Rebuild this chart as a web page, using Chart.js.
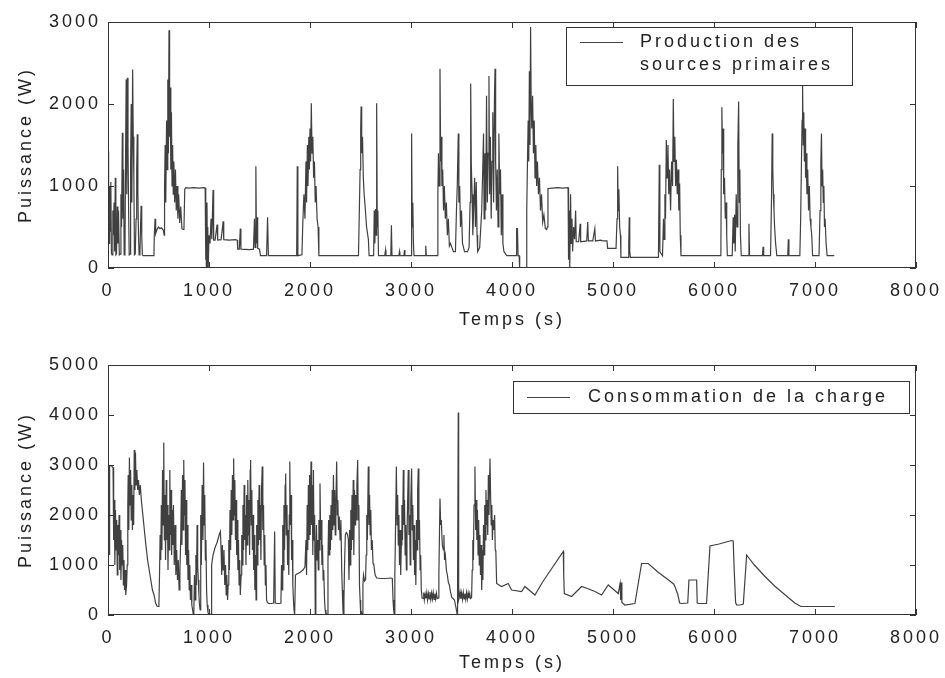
<!DOCTYPE html>
<html>
<head>
<meta charset="utf-8">
<title>Puissance - production et consommation</title>
<script src="https://cdn.jsdelivr.net/npm/chart.js@4.4.1/dist/chart.umd.min.js"></script>
<style>
    html, body { margin: 0; padding: 0; background: #ffffff; }
    #wrap { position: relative; width: 945px; height: 678px; }
    canvas { position: absolute; left: 0; }
    #prodChart { top: 0; }
    #chargeChart { top: 340px; }
</style>
</head>
<body>
<div id="wrap">
    <canvas id="prodChart" width="945" height="340"></canvas>
    <canvas id="chargeChart" width="945" height="338"></canvas>
</div>
<script>
/* ===============================================
   DATA
   =============================================== */

// Tick labels
const timeTicks = [0, 1000, 2000, 3000, 4000, 5000, 6000, 7000, 8000];
const prodTicks = [0, 1000, 2000, 3000];
const chargeTicks = [0, 1000, 2000, 3000, 4000, 5000];

// Texts
const xTitle = 'Temps (s)';
const yTitle = 'Puissance (W)';
const prodLegend = ['Production des', 'sources primaires'];
const chargeLegend = ['Consommation de la charge'];

// Production des sources primaires: time (s) / power (W)
const prodTime = [
    0, 6, 10, 16, 22, 28, 34, 40, 48, 54, 60, 66, 72, 78, 84, 92, 98, 104, 112, 120,
    128, 134, 142, 148, 154, 160, 168, 174, 180, 186, 192, 198, 204, 210, 218, 224, 230, 236, 244, 250,
    256, 262, 270, 278, 284, 290, 296, 302, 308, 316, 322, 328, 334, 340, 350, 380, 440, 455, 458, 466,
    472, 485, 500, 515, 530, 548, 556, 560, 566, 572, 580, 586, 592, 598, 604, 610, 616, 622, 628, 634,
    640, 646, 652, 660, 668, 676, 684, 692, 700, 710, 720, 732, 745, 752, 760, 770, 800, 850, 900, 950,
    962, 966, 970, 974, 980, 984, 988, 992, 1000, 1010, 1020, 1028, 1040, 1046, 1060, 1080, 1086, 1120, 1140, 1146,
    1200, 1260, 1280, 1284, 1300, 1310, 1316, 1400, 1440, 1450, 1456, 1464, 1470, 1476, 1482, 1500, 1510, 1570, 1580, 1588,
    1700, 1800, 1868, 1874, 1880, 1920, 1930, 1940, 1950, 1960, 1966, 1974, 1980, 1988, 1994, 2000, 2006, 2013, 2020, 2028,
    2036, 2044, 2052, 2060, 2070, 2080, 2088, 2200, 2300, 2400, 2480, 2490, 2496, 2502, 2506, 2512, 2520, 2528, 2536, 2545,
    2560, 2578, 2585, 2630, 2636, 2642, 2650, 2656, 2660, 2666, 2672, 2678, 2740, 2748, 2752, 2800, 2806, 2812, 2880, 2886,
    2890, 2930, 2935, 2940, 3000, 3006, 3012, 3018, 3024, 3030, 3140, 3146, 3152, 3260, 3266, 3272, 3278, 3287, 3294, 3300,
    3306, 3314, 3322, 3330, 3340, 3350, 3360, 3370, 3380, 3390, 3420, 3440, 3450, 3458, 3468, 3474, 3482, 3490, 3500, 3510,
    3530, 3560, 3575, 3585, 3591, 3597, 3605, 3612, 3620, 3630, 3638, 3646, 3654, 3660, 3680, 3700, 3710, 3718, 3724, 3732,
    3740, 3748, 3756, 3764, 3772, 3778, 3786, 3794, 3802, 3810, 3818, 3826, 3832, 3838, 3846, 3854, 3862, 3870, 3878, 3886,
    3894, 3902, 3910, 3920, 3948, 4020, 4040, 4046, 4054, 4060, 4070, 4076, 4120, 4140, 4146, 4152, 4160, 4166, 4172, 4178,
    4184, 4190, 4196, 4204, 4212, 4220, 4228, 4236, 4244, 4252, 4262, 4272, 4282, 4292, 4304, 4316, 4330, 4343, 4350, 4356,
    4400, 4450, 4500, 4555, 4560, 4566, 4572, 4580, 4586, 4594, 4600, 4610, 4620, 4630, 4636, 4660, 4675, 4680, 4740, 4750,
    4756, 4800, 4820, 4826, 4880, 4900, 4940, 4947, 5000, 5030, 5040, 5046, 5052, 5058, 5066, 5074, 5078, 5150, 5156, 5161,
    5166, 5172, 5300, 5400, 5450, 5458, 5464, 5490, 5500, 5506, 5514, 5520, 5528, 5536, 5544, 5552, 5560, 5570, 5580, 5590,
    5597, 5604, 5612, 5620, 5628, 5636, 5644, 5652, 5660, 5666, 5673, 5800, 5900, 6000, 6068, 6072, 6078, 6084, 6090, 6096,
    6104, 6112, 6120, 6126, 6132, 6180, 6190, 6196, 6204, 6210, 6220, 6228, 6236, 6244, 6250, 6256, 6262, 6270, 6330, 6340,
    6346, 6352, 6480, 6486, 6492, 6560, 6570, 6576, 6582, 6588, 6594, 6600, 6610, 6622, 6700, 6730, 6736, 6742, 6850, 6858,
    6866, 6872, 6877, 6883, 6889, 6895, 6901, 6907, 6913, 6920, 6928, 6936, 6944, 6952, 6960, 6968, 6976, 7040, 7050, 7058,
    7064, 7070, 7076, 7082, 7088, 7094, 7100, 7110, 7120, 7160, 7191
];
const prodPower = [
    1420, 1000, 300, 1000, 450, 1050, 180, 160, 700, 400, 800, 200, 1100, 160, 170, 750, 300, 700, 160, 170,
    900, 500, 1650, 600, 1200, 160, 170, 1400, 2300, 900, 2320, 1500, 700, 160, 170, 1300, 2000, 800, 2420, 1600,
    1100, 160, 170, 600, 1200, 1630, 900, 400, 160, 170, 500, 760, 400, 160, 150, 150, 150, 150, 380, 600,
    420, 470, 500, 480, 490, 460, 400, 1000, 1500, 800, 1800, 1200, 2300, 1400, 2900, 1600, 2200, 1200, 1900, 1000,
    1500, 900, 1300, 800, 1200, 700, 1000, 600, 900, 550, 750, 480, 470, 480, 960, 980, 975, 980, 975, 980,
    975, 100, 600, 0, 800, 200, 500, 0, 400, 300, 600, 350, 950, 340, 340, 530, 340, 345, 570, 345,
    340, 345, 340, 230, 230, 480, 230, 225, 230, 600, 250, 1240, 300, 620, 240, 230, 150, 150, 620, 150,
    150, 150, 150, 1240, 150, 160, 600, 900, 600, 1300, 800, 1500, 1000, 1600, 1200, 1700, 1300, 2010, 1400, 1600,
    1100, 1300, 800, 1000, 600, 500, 150, 150, 150, 150, 150, 800, 1200, 1700, 1970, 1400, 1600, 1100, 900, 760,
    500, 350, 150, 150, 700, 300, 720, 400, 2010, 500, 700, 150, 150, 220, 150, 150, 520, 150, 150, 200,
    150, 150, 220, 150, 150, 1640, 500, 800, 300, 150, 150, 270, 150, 150, 900, 1400, 1000, 2430, 1300, 1600,
    1000, 1200, 700, 1000, 600, 800, 400, 600, 270, 300, 200, 200, 700, 1000, 1640, 800, 1000, 500, 700, 300,
    200, 200, 250, 800, 2250, 1270, 900, 400, 700, 1100, 500, 1050, 400, 200, 250, 700, 1200, 1640, 600, 1400,
    700, 2100, 800, 1400, 2340, 900, 1600, 600, 1300, 1900, 800, 2050, 2430, 1300, 700, 1200, 500, 1640, 900, 1200,
    400, 900, 300, 200, 150, 150, 150, 480, 480, 150, 150, 0, 0, 0, 700, 1200, 1800, 1300, 2400, 1500,
    2940, 2000, 1700, 2100, 1400, 1800, 1100, 1500, 1000, 1300, 900, 1100, 700, 900, 560, 650, 480, 470, 500, 970,
    975, 980, 975, 980, 100, 700, 0, 900, 300, 600, 200, 500, 350, 700, 320, 320, 540, 320, 330, 560,
    330, 330, 480, 330, 340, 330, 330, 240, 240, 240, 600, 1240, 700, 960, 500, 400, 130, 130, 300, 620,
    200, 130, 130, 130, 130, 1260, 200, 150, 600, 350, 900, 600, 1560, 1100, 1500, 900, 1200, 700, 1300, 1000,
    2060, 1300, 1600, 1000, 1320, 900, 1200, 700, 1030, 400, 150, 150, 150, 150, 150, 1200, 1960, 1400, 1700, 900,
    1100, 600, 800, 400, 150, 150, 620, 300, 650, 200, 900, 500, 1500, 2030, 800, 1200, 400, 150, 150, 150,
    540, 150, 150, 260, 150, 150, 900, 1640, 1200, 900, 700, 500, 300, 150, 150, 150, 350, 150, 150, 600,
    1300, 1800, 2250, 1500, 1900, 1300, 1700, 1100, 1400, 900, 1200, 700, 1000, 600, 500, 400, 150, 150, 700, 1300,
    1640, 1000, 1200, 800, 1000, 500, 600, 300, 150, 150, 150
];

// Consommation de la charge: time (s) / power (W)
const chargeTime = [
    0, 6, 10, 14, 18, 30, 50, 56, 62, 68, 74, 80, 86, 92, 98, 104, 110, 116, 122, 128,
    134, 140, 146, 152, 158, 164, 170, 176, 184, 190, 196, 200, 206, 212, 218, 224, 230, 236, 242, 248,
    254, 260, 266, 272, 278, 286, 294, 302, 310, 320, 330, 345, 360, 375, 392, 408, 424, 440, 456, 470,
    484, 496, 504, 510, 516, 522, 528, 534, 540, 546, 552, 558, 564, 570, 576, 582, 588, 594, 600, 606,
    612, 618, 624, 630, 636, 642, 648, 656, 664, 672, 680, 688, 696, 704, 712, 720, 726, 732, 738, 744,
    750, 756, 762, 768, 774, 780, 786, 792, 798, 804, 810, 816, 822, 830, 838, 845, 850, 856, 862, 870,
    876, 882, 888, 894, 900, 906, 912, 918, 924, 932, 940, 946, 952, 958, 964, 970, 976, 982, 990, 1000,
    1010, 1020, 1026, 1040, 1060, 1080, 1100, 1113, 1120, 1126, 1132, 1140, 1148, 1156, 1164, 1170, 1176, 1184, 1190, 1196,
    1202, 1208, 1214, 1220, 1226, 1232, 1238, 1244, 1250, 1256, 1262, 1268, 1274, 1280, 1286, 1292, 1298, 1304, 1310, 1318,
    1324, 1330, 1336, 1342, 1348, 1354, 1360, 1366, 1372, 1378, 1384, 1390, 1396, 1402, 1408, 1412, 1418, 1424, 1430, 1436,
    1442, 1448, 1454, 1460, 1466, 1472, 1478, 1484, 1490, 1496, 1502, 1508, 1514, 1520, 1527, 1533, 1540, 1546, 1552, 1558,
    1564, 1570, 1578, 1590, 1620, 1640, 1650, 1656, 1680, 1700, 1712, 1718, 1724, 1730, 1736, 1742, 1748, 1754, 1759, 1765,
    1772, 1778, 1784, 1790, 1795, 1800, 1806, 1812, 1818, 1824, 1830, 1836, 1842, 1848, 1856, 1870, 1900, 1930, 1950, 1960,
    1966, 1972, 1978, 1984, 1990, 1996, 2002, 2010, 2016, 2022, 2028, 2034, 2040, 2046, 2052, 2058, 2064, 2070, 2076, 2082,
    2088, 2094, 2099, 2106, 2112, 2118, 2124, 2130, 2136, 2144, 2150, 2158, 2165, 2172, 2178, 2184, 2190, 2196, 2202, 2208,
    2214, 2220, 2226, 2232, 2238, 2244, 2250, 2256, 2264, 2270, 2276, 2282, 2290, 2298, 2306, 2314, 2320, 2326, 2330, 2336,
    2342, 2350, 2360, 2370, 2380, 2386, 2392, 2398, 2404, 2410, 2416, 2422, 2428, 2434, 2440, 2446, 2452, 2458, 2464, 2472,
    2478, 2484, 2490, 2496, 2502, 2510, 2518, 2524, 2530, 2540, 2550, 2556, 2562, 2568, 2577, 2584, 2590, 2596, 2602, 2608,
    2616, 2624, 2632, 2645, 2660, 2700, 2750, 2800, 2815, 2822, 2828, 2835, 2840, 2846, 2855, 2862, 2868, 2874, 2880, 2886,
    2892, 2898, 2904, 2910, 2916, 2924, 2930, 2936, 2942, 2948, 2954, 2960, 2966, 2973, 2980, 2986, 2992, 2998, 3006, 3012,
    3018, 3024, 3030, 3036, 3042, 3048, 3054, 3060, 3066, 3072, 3078, 3084, 3090, 3096, 3102, 3110, 3120, 3126, 3132, 3140,
    3148, 3156, 3164, 3172, 3180, 3188, 3196, 3204, 3212, 3220, 3228, 3236, 3244, 3252, 3260, 3270, 3276, 3287, 3294, 3300,
    3310, 3320, 3326, 3332, 3340, 3350, 3360, 3370, 3380, 3392, 3404, 3416, 3430, 3440, 3450, 3458, 3461, 3468, 3472, 3478,
    3486, 3494, 3502, 3510, 3518, 3526, 3534, 3542, 3550, 3558, 3566, 3574, 3582, 3590, 3600, 3606, 3612, 3618, 3624, 3633,
    3640, 3646, 3652, 3658, 3664, 3670, 3676, 3682, 3688, 3694, 3700, 3706, 3712, 3718, 3724, 3730, 3736, 3742, 3748, 3754,
    3760, 3766, 3772, 3782, 3788, 3794, 3800, 3806, 3812, 3820, 3828, 3834, 3840, 3848, 3897, 3963, 3996, 4095, 4128, 4227,
    4300, 4400, 4508, 4512, 4518, 4590, 4689, 4760, 4821, 4887, 4953, 5000, 5052, 5070, 5076, 5082, 5088, 5100, 5118, 5217,
    5283, 5349, 5450, 5550, 5600, 5613, 5640, 5660, 5679, 5740, 5752, 5762, 5828, 5834, 5851, 5926, 5940, 5960, 6050, 6120,
    6174, 6190, 6200, 6214, 6224, 6260, 6290, 6310, 6323, 6400, 6500, 6600, 6700, 6800, 6860, 6900, 6950, 7050, 7197
];
const chargePower = [
    2900, 2000, 2900, 1200, 2980, 2990, 2950, 1500, 2300, 1000, 2100, 1300, 1900, 800, 1800, 1200, 2000, 900, 1700, 700,
    1500, 1000, 1400, 600, 1100, 500, 900, 400, 600, 1000, 2200, 2800, 1700, 3150, 2200, 2900, 1900, 2600, 1700, 2400,
    1800, 3300, 2500, 3250, 2600, 2900, 2500, 2700, 2400, 2600, 2300, 2000, 1700, 1400, 1100, 900, 700, 500, 400, 250,
    180, 170, 200, 800, 1600, 1100, 2200, 1300, 2900, 1800, 3450, 1500, 2400, 1100, 2700, 1500, 2200, 900, 2000, 1300,
    2900, 1600, 2500, 1200, 2100, 1400, 2200, 1000, 1800, 800, 1300, 700, 1100, 500, 900, 1500, 2500, 1400, 2800, 1700,
    3100, 2000, 2700, 1200, 2300, 1000, 1800, 700, 1300, 500, 1000, 300, 600, 200, 100, 0, 50, 800, 300, 1200,
    600, 1800, 1000, 700, 400, 200, 100, 2000, 1000, 2600, 1500, 3050, 1800, 2400, 1100, 1500, 500, 200, 50, 0,
    20, 0, 1000, 1200, 1350, 1450, 1600, 1670, 1300, 800, 1400, 900, 1300, 600, 1000, 400, 800, 300, 600, 1500,
    900, 2100, 1300, 2500, 1600, 2800, 1900, 3130, 2000, 2700, 1500, 2300, 1200, 1900, 900, 1500, 600, 1100, 400, 800,
    1600, 1000, 2200, 1300, 2600, 1500, 2000, 1000, 2400, 1400, 2700, 1600, 2300, 1200, 2900, 3100, 1800, 2500, 1300, 2000,
    900, 1600, 500, 1200, 300, 1800, 1000, 2300, 1400, 2600, 1500, 2200, 1100, 2500, 2970, 1700, 2200, 1000, 1600, 600,
    1000, 300, 250, 230, 230, 240, 1670, 240, 230, 230, 240, 1000, 500, 1800, 900, 2200, 1300, 2600, 2830, 1600,
    2200, 1000, 1700, 800, 2000, 3070, 1800, 2400, 1100, 1500, 600, 300, 100, 0, 800, 820, 850, 900, 960, 1500,
    800, 2200, 1300, 2600, 1500, 2800, 1600, 3070, 1800, 2600, 1200, 2900, 1500, 2000, 0, 1200, 1800, 1100, 1500, 900,
    1900, 1300, 2630, 1500, 1900, 1000, 1400, 700, 900, 300, 100, 0, 20, 0, 1100, 1900, 1200, 2000, 1300, 2200,
    1500, 2500, 1700, 2800, 1800, 2500, 1600, 2200, 3070, 2000, 2300, 1700, 1970, 1500, 1900, 900, 500, 100, 0, 300,
    1000, 1600, 1650, 1620, 1500, 700, 1700, 1000, 2100, 1300, 2400, 1500, 2700, 1200, 2500, 1800, 2400, 1900, 2600, 3100,
    1900, 2200, 600, 300, 0, 50, 0, 600, 800, 680, 700, 1200, 2000, 1500, 2970, 1800, 2400, 1600, 2100, 1300,
    1500, 1030, 1000, 800, 740, 730, 730, 740, 730, 300, 100, 0, 800, 1600, 2970, 1800, 2400, 1400, 2000, 1000,
    1700, 800, 1400, 2200, 1500, 2900, 1800, 2300, 1200, 1800, 900, 1500, 2200, 2900, 1600, 2000, 1000, 2300, 2930, 1700,
    2200, 1100, 1800, 800, 1500, 600, 1900, 1300, 2500, 2930, 1500, 1900, 900, 1200, 500, 340, 330, 450, 300, 420,
    330, 450, 300, 430, 320, 460, 310, 440, 320, 450, 310, 430, 320, 440, 330, 340, 800, 2330, 1800, 1900,
    1400, 1300, 1600, 1100, 1200, 900, 800, 650, 600, 450, 350, 330, 300, 200, 100, 0, 500, 4050, 300, 350,
    460, 320, 440, 310, 450, 320, 430, 310, 450, 320, 440, 330, 430, 330, 350, 900, 1500, 1100, 2200, 2970,
    1700, 2300, 1500, 2100, 1200, 1900, 1000, 1600, 800, 1400, 500, 1300, 700, 1800, 1200, 2200, 1500, 2500, 1800, 2300,
    1600, 2800, 2000, 3130, 2400, 1800, 2200, 1500, 1900, 1700, 2000, 1300, 1270, 630, 570, 630, 500, 470, 570, 400,
    650, 950, 1270, 800, 430, 370, 570, 520, 470, 400, 600, 520, 430, 630, 300, 650, 250, 230, 200, 230,
    1030, 1030, 850, 700, 620, 570, 420, 240, 230, 240, 700, 700, 700, 240, 230, 230, 700, 1380, 1420, 1460,
    1490, 1480, 900, 250, 200, 200, 220, 800, 1200, 1000, 780, 580, 410, 240, 170, 170, 170, 170, 170
];

/* ===============================================
   PLUGINS
   =============================================== */

const FONT = { family: "'Liberation Sans', Arial, sans-serif", size: 18 };
const SPACING = '3px';

// Wide letter spacing like the scanned MATLAB figure
const spacingPlugin = {
    id: 'spacing',
    beforeLayout(chart) { chart.ctx.letterSpacing = SPACING; },
    beforeDraw(chart) { chart.ctx.letterSpacing = SPACING; }
};

// Box around plot area with inward ticks on all four sides
const framePlugin = {
    id: 'frame',
    afterDatasetsDraw(chart) {
        const { ctx, chartArea: a, scales } = chart;
        const len = 6;
        ctx.save();
        ctx.strokeStyle = '#333333';
        ctx.lineWidth = 1;
        ctx.strokeRect(a.left + 0.5, a.top + 0.5, a.width - 1, a.height - 1);
        ctx.beginPath();
        scales.x.ticks.forEach(t => {
            const px = Math.round(scales.x.getPixelForValue(t.value)) + 0.5;
            ctx.moveTo(px, a.bottom); ctx.lineTo(px, a.bottom - len);
            ctx.moveTo(px, a.top); ctx.lineTo(px, a.top + len);
        });
        scales.y.ticks.forEach(t => {
            const py = Math.round(scales.y.getPixelForValue(t.value)) + 0.5;
            ctx.moveTo(a.left, py); ctx.lineTo(a.left + len, py);
            ctx.moveTo(a.right, py); ctx.lineTo(a.right - len, py);
        });
        ctx.stroke();
        ctx.restore();
    }
};

// MATLAB-style legend box
const boxLegendPlugin = {
    id: 'boxLegend',
    afterDraw(chart, args, opts) {
        const ctx = chart.ctx;
        const b = opts.box;
        ctx.save();
        ctx.fillStyle = '#ffffff';
        ctx.fillRect(b.x, b.y, b.w, b.h);
        ctx.strokeStyle = '#333333';
        ctx.lineWidth = 1;
        ctx.strokeRect(b.x + 0.5, b.y + 0.5, b.w, b.h);
        ctx.strokeStyle = '#444444';
        ctx.beginPath();
        ctx.moveTo(b.x + 14, b.sampleY + 0.5);
        ctx.lineTo(b.x + 57, b.sampleY + 0.5);
        ctx.stroke();
        ctx.letterSpacing = SPACING;
        ctx.fillStyle = '#222222';
        ctx.font = `${FONT.size}px ${FONT.family}`;
        ctx.textBaseline = 'middle';
        opts.lines.forEach((line, i) => {
            ctx.fillText(line, b.x + b.textX, b.sampleY + i * b.lineGap);
        });
        ctx.restore();
    }
};

/* ===============================================
   CHART BUILDER
   =============================================== */

function toPoints(xs, ys) {
    return xs.map((x, i) => ({ x: x, y: ys[i] }));
}

// Plain numbers, no thousands separator
const plainTick = v => String(v);

function makeChart(id, cfg) {
    const ctx = document.getElementById(id);
    return new Chart(ctx, {
        type: 'line',
        data: {
            datasets: [{
                label: cfg.label,
                data: toPoints(cfg.xs, cfg.ys),
                borderColor: '#404040',
                borderWidth: 1.2,
                pointRadius: 0,
                tension: 0,
                fill: false
            }]
        },
        options: {
            responsive: false,
            animation: false,
            events: [],
            layout: { padding: { top: cfg.padTop, right: 29, bottom: 0, left: 0 } },
            plugins: {
                legend: { display: false },
                tooltip: { enabled: false },
                boxLegend: { lines: cfg.legend, box: cfg.box }
            },
            scales: {
                x: {
                    type: 'linear',
                    min: 0,
                    max: 8000,
                    afterBuildTicks: s => { s.ticks = timeTicks.map(v => ({ value: v })); },
                    afterFit: s => {
                        s.height = cfg.xHeight;
                        s.paddingLeft = 0;
                        s.paddingRight = 0;
                    },
                    grid: { display: false, drawTicks: false },
                    border: { display: false },
                    ticks: {
                        font: FONT, color: '#222222', padding: 12,
                        maxRotation: 0, autoSkip: false, callback: plainTick
                    },
                    title: {
                        display: true, text: xTitle, font: FONT, color: '#222222',
                        padding: { top: 0, bottom: cfg.xTitlePad }
                    }
                },
                y: {
                    type: 'linear',
                    min: 0,
                    max: cfg.yMax,
                    afterBuildTicks: s => { s.ticks = cfg.yTicks.map(v => ({ value: v })); },
                    afterFit: s => {
                        s.width = 108;
                        s.paddingTop = 0;
                        s.paddingBottom = 0;
                    },
                    grid: { display: false, drawTicks: false },
                    border: { display: false },
                    ticks: { font: FONT, color: '#222222', padding: 7, callback: plainTick },
                    title: {
                        display: true, text: yTitle, font: FONT, color: '#222222',
                        padding: { top: 15, bottom: 0 }
                    }
                }
            }
        },
        plugins: [spacingPlugin, framePlugin, boxLegendPlugin]
    });
}

makeChart('prodChart', {
    label: prodLegend.join(' '),
    legend: prodLegend,
    xs: prodTime,
    ys: prodPower,
    yMax: 3000,
    yTicks: prodTicks,
    padTop: 22,
    xHeight: 72,
    xTitlePad: 9,
    box: { x: 566, y: 27, w: 286, h: 58, sampleY: 42, textX: 74, lineGap: 23 }
});

makeChart('chargeChart', {
    label: chargeLegend[0],
    legend: chargeLegend,
    xs: chargeTime,
    ys: chargePower,
    yMax: 5000,
    yTicks: chargeTicks,
    padTop: 25,
    xHeight: 63,
    xTitlePad: 4,
    box: { x: 513, y: 41, w: 396, h: 32, sampleY: 57, textX: 75, lineGap: 23 }
});
</script>
</body>
</html>
